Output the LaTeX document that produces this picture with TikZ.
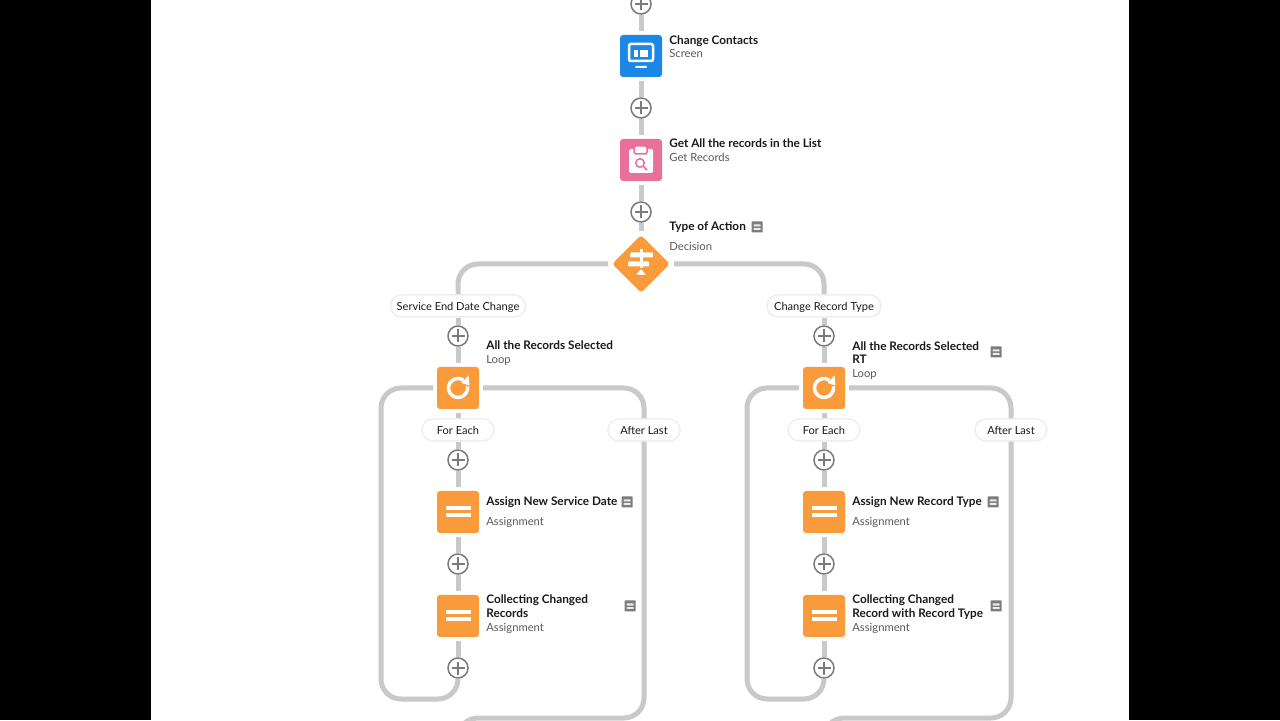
\documentclass[tikz,border=0pt]{standalone}
\usepackage{fontspec}
\setmainfont{Lato}
\usetikzlibrary{shapes.geometric}
\definecolor{wiregray}{HTML}{C9C9C9}
\definecolor{plusgray}{HTML}{7A7A7A}
\definecolor{notegray}{HTML}{7C7C7C}
\definecolor{pillline}{HTML}{EFEFEF}
\definecolor{screenblue}{HTML}{1B87E6}
\definecolor{recordpink}{HTML}{E8709A}
\definecolor{floworange}{HTML}{F99A3B}
\definecolor{titleink}{HTML}{1A1A1A}
\definecolor{subink}{HTML}{5A5A5A}
\tikzset{
  wire/.style={draw=wiregray,line width=.1cm,rounded corners=.4cm},
  plusbtn/.style={circle,draw=plusgray,fill=white,line width=.03cm,minimum size=.4cm,inner sep=0pt,
    path picture={
      \draw[plusgray,line width=.03cm] ([xshift=-.13cm]path picture bounding box.center) -- ([xshift=.13cm]path picture bounding box.center);
      \draw[plusgray,line width=.03cm] ([yshift=-.13cm]path picture bounding box.center) -- ([yshift=.13cm]path picture bounding box.center);
    }},
  iconbox/.style={rectangle,rounded corners=.06cm,minimum size=.84cm,inner sep=0pt,outer sep=.08cm},
  decbox/.style={diamond,fill=floworange,rounded corners=.06cm,minimum size=1.2cm,inner sep=0pt,outer sep=.06cm},
  pill/.style={rectangle,rounded corners=.22cm,draw=pillline,line width=.03cm,fill=white,minimum height=.44cm,inner sep=0pt,
    text height=.2cm,text depth=0pt,text=titleink,font=\fontsize{6.3pt}{7.6pt}\selectfont},
  ttl/.style={anchor=base west,inner sep=0pt,yshift=-.02cm,align=left,text=titleink,font=\fontsize{6.7pt}{7.94pt}\selectfont\bfseries},
  sub/.style={anchor=base west,inner sep=0pt,yshift=-.02cm,text=subink,font=\fontsize{6.4pt}{7.6pt}\selectfont},
  notebox/.style={rectangle,fill=notegray,rounded corners=.01cm,minimum size=.22cm,inner sep=0pt,
    path picture={
      \fill[white!85!notegray] ([shift={(-.07,.05)}]path picture bounding box.center) rectangle ([shift={(.07,.01)}]path picture bounding box.center);
      \fill[white!85!notegray] ([shift={(-.07,-.02)}]path picture bounding box.center) rectangle ([shift={(.07,-.06)}]path picture bounding box.center);
    }},
}
\newcommand{\iconloop}[1]{
  \draw[white,line width=.07cm] ([shift={(10:.19cm)}]#1.center) arc (10:-305:.19cm);
  \fill[white] ([shift={(.21,.25)}]#1.center) -- ([shift={(.23,.05)}]#1.center) -- ([shift={(.07,.1)}]#1.center) -- cycle;
}
\newcommand{\iconassign}[1]{
  \fill[white] ([shift={(-.25,.03)}]#1.center) rectangle ([shift={(.25,.11)}]#1.center);
  \fill[white] ([shift={(-.25,-.11)}]#1.center) rectangle ([shift={(.25,-.03)}]#1.center);
}
\begin{document}
\begin{tikzpicture}
  \useasboundingbox (0,0) rectangle (25.6,14.4);
  \clip (0,0) rectangle (25.6,14.4);
  \fill[white] (0,0) rectangle (25.6,14.4);
  % side bars
  \fill[black] (0,0) rectangle (3.02,14.4);
  \fill[black] (22.58,0) rectangle (25.6,14.4);
  % main column
  \node[plusbtn] (plusa) at(12.82,14.32){};
  \node[iconbox,fill=screenblue] (contacts) at(12.82,13.28){};
  \node[plusbtn] (plusb) at(12.82,12.24){};
  \node[iconbox,fill=recordpink] (getrec) at(12.82,11.2){};
  \node[plusbtn] (plusc) at(12.82,10.16){};
  \node[decbox] (action) at(12.82,9.12){};
  \draw[wire] (plusa) -- (contacts);
  \draw[wire] (contacts) -- (plusb);
  \draw[wire] (plusb) -- (getrec);
  \draw[wire] (getrec) -- (plusc);
  \draw[wire] (plusc) -- (action);
  % main labels
  \node[ttl] (contactsttl) at(13.38,13.53){Change Contacts};
  \node[sub] (contactssub) at(13.38,13.26){Screen};
  \node[ttl] (getrecttl) at(13.38,11.46){Get All the records in the List};
  \node[sub] (getrecsub) at(13.38,11.18){Get Records};
  \node[ttl] (actionttl) at(13.38,9.8){Type of Action};
  \node[sub] (actionsub) at(13.38,9.4){Decision};
  \node[notebox] (actionnote) at(15.14,9.86){};
  % screen icon
  \draw[white,line width=.05cm,rounded corners=.04cm] (12.58,13.52) rectangle (13.06,13.18);
  \fill[white] (12.68,13.4) rectangle (12.76,13.26);
  \fill[white] (12.8,13.4) rectangle (12.96,13.26);
  \fill[white,rounded corners=.02cm] (12.7,13.08) rectangle (12.94,13.04);
  % get records icon
  \fill[white,rounded corners=.03cm] (12.58,11.42) rectangle (13.06,10.94);
  \draw[recordpink,fill=white,line width=.03cm,rounded corners=.04cm] (12.68,11.48) rectangle (12.94,11.32);
  \draw[recordpink,line width=.03cm] (12.8,11.14) circle (.085cm);
  \draw[recordpink,line width=.03cm] (12.86,11.08) -- (12.94,11.0);
  % decision icon
  \fill[white] (12.79,9.42) rectangle (12.85,9.04);
  \fill[white,rounded corners=.02cm] (12.6,9.35) rectangle (13.06,9.25);
  \fill[white,rounded corners=.02cm] (12.56,9.17) rectangle (12.98,9.07);
  \fill[white,rounded corners=.02cm] (12.72,8.9) -- (12.92,8.9) -- (12.82,9.02) -- cycle;
  % branch left
  \node[pill,minimum width=2.7cm] (svcdate) at(9.16,8.28){Service End Date Change};
  \node[plusbtn] (plusd) at(9.16,7.68){};
  \node[iconbox,fill=floworange] (loopa) at(9.16,6.64){};
  \node[pill,minimum width=1.44cm] (eacha) at(9.16,5.8){For Each};
  \node[pill,minimum width=1.44cm] (lasta) at(12.88,5.8){After Last};
  \node[plusbtn] (pluse) at(9.16,5.2){};
  \node[iconbox,fill=floworange] (assigna) at(9.16,4.16){};
  \node[plusbtn] (plusf) at(9.16,3.12){};
  \node[iconbox,fill=floworange] (collecta) at(9.16,2.08){};
  \node[plusbtn] (plusg) at(9.16,1.04){};
  \coordinate (backa1) at(7.62,6.64);
  \coordinate (backa2) at(7.62,.42);
  \coordinate (backa3) at(9.16,.42);
  \coordinate (nexta1) at(12.88,.04);
  \coordinate (nexta2) at(9.16,.04);
  \coordinate (nexta3) at(9.16,-1);
  \draw[wire] (action.west) -| (svcdate.north);
  \draw[wire] (svcdate) -- (plusd);
  \draw[wire] (plusd) -- (loopa);
  \draw[wire] (loopa) -- (eacha);
  \draw[wire] (eacha) -- (pluse);
  \draw[wire] (pluse) -- (assigna);
  \draw[wire] (assigna) -- (plusf);
  \draw[wire] (plusf) -- (collecta);
  \draw[wire] (collecta) -- (plusg);
  \draw[wire] (loopa.west) -- (backa1) -- (backa2) -- (backa3) -- (plusg.south);
  \draw[wire] (loopa.east) -| (lasta.north);
  \draw[wire] (lasta.south) -- (nexta1) -- (nexta2) -- (nexta3);
  % left labels
  \node[ttl] (loopattl) at(9.72,7.42){All the Records Selected};
  \node[sub] (loopasub) at(9.72,7.14){Loop};
  \node[ttl] (assignattl) at(9.72,4.3){Assign New Service Date};
  \node[sub] (assignasub) at(9.72,3.9){Assignment};
  \node[notebox] (assignanote) at(12.54,4.36){};
  \node[ttl] (collectattl) at(9.72,2.08){Collecting Changed\\Records};
  \node[sub] (collectasub) at(9.72,1.8){Assignment};
  \node[notebox] (collectanote) at(12.6,2.28){};
  \iconloop{loopa}
  \iconassign{assigna}
  \iconassign{collecta}
  % branch right
  \node[pill,minimum width=2.28cm] (rectype) at(9.16+7.32,8.28){Change Record Type};
  \node[plusbtn] (plush) at(9.16+7.32,7.68){};
  \node[iconbox,fill=floworange] (loopb) at(9.16+7.32,6.64){};
  \node[pill,minimum width=1.44cm] (eachb) at(9.16+7.32,5.8){For Each};
  \node[pill,minimum width=1.44cm] (lastb) at(12.88+7.34,5.8){After Last};
  \node[plusbtn] (plusi) at(9.16+7.32,5.2){};
  \node[iconbox,fill=floworange] (assignb) at(9.16+7.32,4.16){};
  \node[plusbtn] (plusj) at(9.16+7.32,3.12){};
  \node[iconbox,fill=floworange] (collectb) at(9.16+7.32,2.08){};
  \node[plusbtn] (plusk) at(9.16+7.32,1.04){};
  \coordinate (backb1) at(7.62+7.32,6.64);
  \coordinate (backb2) at(7.62+7.32,.42);
  \coordinate (backb3) at(9.16+7.32,.42);
  \coordinate (nextb1) at(12.88+7.34,.04);
  \coordinate (nextb2) at(9.16+7.32,.04);
  \coordinate (nextb3) at(9.16+7.32,-1);
  \draw[wire] (action.east) -| (rectype.north);
  \draw[wire] (rectype) -- (plush);
  \draw[wire] (plush) -- (loopb);
  \draw[wire] (loopb) -- (eachb);
  \draw[wire] (eachb) -- (plusi);
  \draw[wire] (plusi) -- (assignb);
  \draw[wire] (assignb) -- (plusj);
  \draw[wire] (plusj) -- (collectb);
  \draw[wire] (collectb) -- (plusk);
  \draw[wire] (loopb.west) -- (backb1) -- (backb2) -- (backb3) -- (plusk.south);
  \draw[wire] (loopb.east) -| (lastb.north);
  \draw[wire] (lastb.south) -- (nextb1) -- (nextb2) -- (nextb3);
  % right labels
  \node[ttl] (loopbttl) at(9.72+7.32,7.14){All the Records Selected\\RT};
  \node[sub] (loopbsub) at(9.72+7.32,6.86){Loop};
  \node[notebox] (loopbnote) at(19.92,7.36){};
  \node[ttl] (assignbttl) at(9.72+7.32,4.3){Assign New Record Type};
  \node[sub] (assignbsub) at(9.72+7.32,3.9){Assignment};
  \node[notebox] (assignbnote) at(19.86,4.36){};
  \node[ttl] (collectbttl) at(9.72+7.32,2.08){Collecting Changed\\Record with Record Type};
  \node[sub] (collectbsub) at(9.72+7.32,1.8){Assignment};
  \node[notebox] (collectbnote) at(19.92,2.28){};
  \iconloop{loopb}
  \iconassign{assignb}
  \iconassign{collectb}
\end{tikzpicture}
\end{document}
